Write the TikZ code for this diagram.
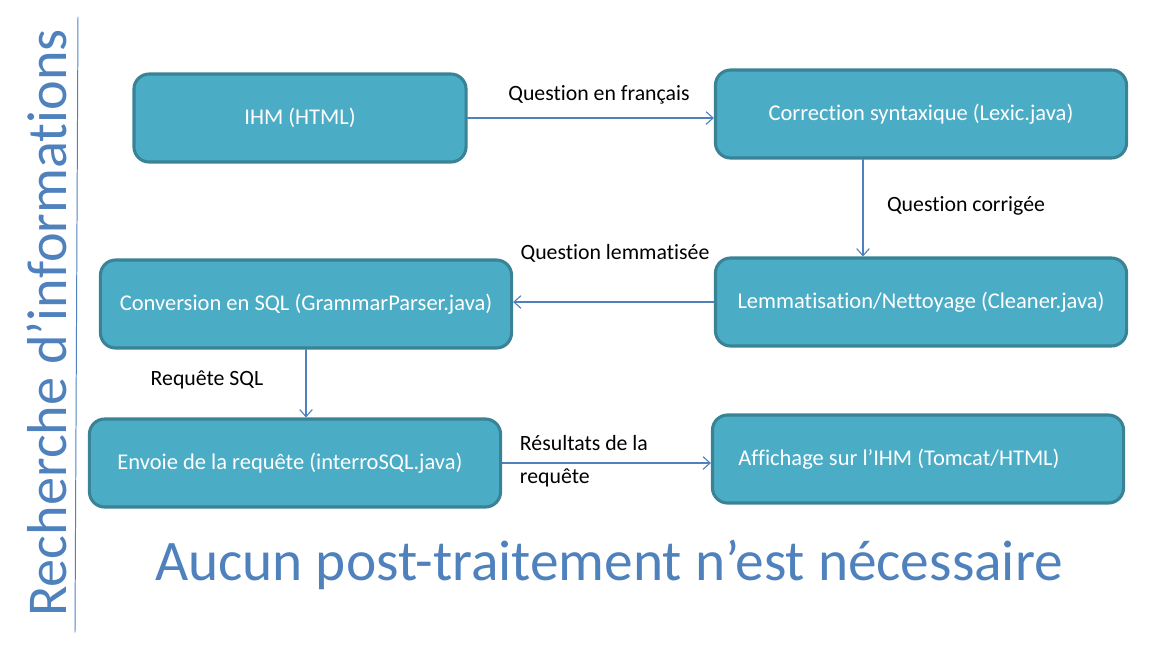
\documentclass[tikz,border=0pt]{standalone}
\usepackage{fontspec}
\setmainfont{Carlito}[Ligatures=NoCommon]
\usetikzlibrary{arrows.meta}
\definecolor{boite}{HTML}{4BACC6}
\definecolor{bord}{HTML}{3A8296}
\definecolor{fleche}{HTML}{4F81BD}
\newcommand{\agauche}[2]{\makebox[#1][l]{#2}}
\tikzset{
  every picture/.style={line join=round, line cap=round, >={Straight Barb[length=5pt,width=9pt]}},
  bloc/.style={draw=bord, line width=2.2pt, fill=boite, rounded corners=0.38cm, text=white,
    font=\fontsize{16}{18}\selectfont, minimum width=10.275cm, minimum height=2.2cm},
  lien/.style={->, draw=fleche, line width=0.8pt},
  etiq/.style={font=\fontsize{15.5}{23.5}\selectfont, text=black},
}

\begin{document}
\begin{tikzpicture}[x=0.025cm,y=-0.025cm]
\useasboundingbox (0,0) rectangle (1155,653);
% titres
\draw[fleche, line width=0.7pt] (78,17) -- (75,632);
\node[rotate=90, text=fleche, font=\fontsize{40}{48}\selectfont] (titre) at (47,323) {Recherche d’informations};
\node[text=fleche, font=\fontsize{40.8}{48}\selectfont] (bilan) at (609,565) {Aucun post-traitement n’est nécessaire};
% blocs
\node[bloc, minimum width=8.3cm] (ihm) at (300,118) {IHM (HTML)};
\node[bloc] (correction) at (921,114) {Correction syntaxique (Lexic.java)};
\node[bloc] (lemma) at (921,302) {Lemmatisation/Nettoyage (Cleaner.java)};
\node[bloc] (conversion) at (306,304) {Conversion en SQL (GrammarParser.java)};
\node[bloc, inner xsep=0.7cm] (envoi) at (295,463) {\agauche{8.875cm}{Envoie de la requête (interroSQL.java)}};
\node[bloc, inner xsep=0.65cm] (affichage) at (918,459) {\agauche{8.975cm}{Affichage sur l’IHM (Tomcat/HTML)}};
% liens
\draw[lien] (ihm.east) -- (ihm.east -| correction.west);
\draw[lien] ([xshift=-1.45cm]correction.south) -- ([xshift=-1.45cm]lemma.north);
\draw[lien] (lemma.west) -- (lemma.west -| conversion.east);
\draw[lien] (conversion.south) -- (conversion.south |- envoi.north);
\draw[lien] (envoi.east) -- (envoi.east -| affichage.west);
% etiquettes
\node[etiq] (q1) at (599,95) {Question en français};
\node[etiq] (q2) at (966,206) {Question corrigée};
\node[etiq] (q3) at (615,253) {Question lemmatisée};
\node[etiq] (q4) at (207,380) {Requête SQL};
\node[etiq, align=left, anchor=west] (q5) at (515,461) {Résultats de la\\requête};
\end{tikzpicture}
\end{document}
